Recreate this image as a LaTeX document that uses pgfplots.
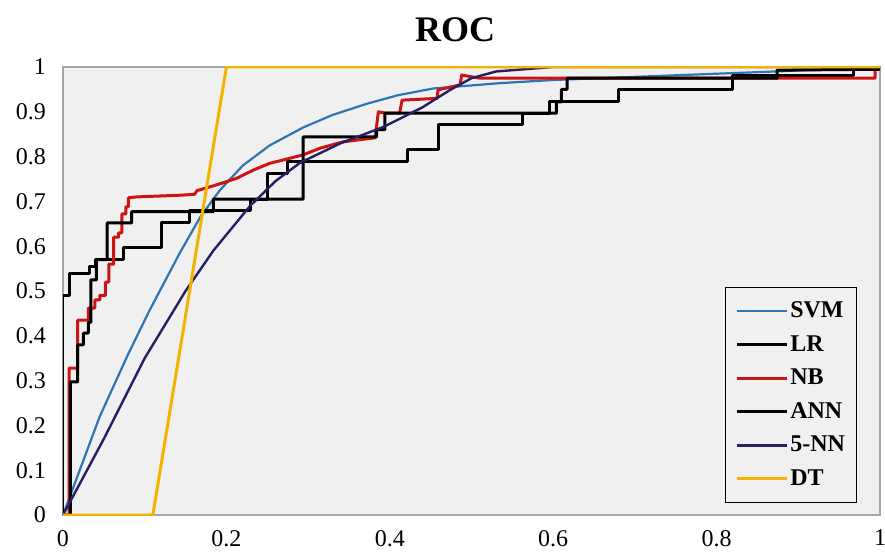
\documentclass[border=0pt]{standalone}
\usepackage{fontspec}
\setmainfont{Liberation Serif}
\usepackage{pgfplots}
\pgfplotsset{compat=1.18}
\definecolor{svmblue}{RGB}{46,117,182}
\definecolor{nbred}{RGB}{205,20,20}
\definecolor{knnnavy}{RGB}{40,30,100}
\definecolor{dtgold}{RGB}{242,180,0}
\definecolor{plotbg}{RGB}{240,240,240}
\begin{document}
\begin{tikzpicture}
\begin{axis}[
  scale only axis,
  width=408.5pt, height=224pt,
  xmin=0, xmax=1, ymin=0, ymax=1,
  xtick={0,0.2,0.4,0.6,0.8,1},
  ytick={0,0.1,0.2,0.3,0.4,0.5,0.6,0.7,0.8,0.9,1},
  major tick length=0pt,
  axis line style={draw=gray!70, line width=0.6pt},
  axis background/.style={fill=plotbg},
  /pgf/number format/assume math mode=true,
  /pgf/number format/.cd, fixed, precision=1, /pgfplots/.cd,
  tick label style={font=\fontsize{12}{14}\selectfont},
  xticklabel style={yshift=-4pt},
  yticklabel style={xshift=-5pt},
  title={ROC},
  title style={font=\fontsize{18}{20}\selectfont\bfseries, at={(0.48,1)}, anchor=south, yshift=3pt},
  legend cell align=left,
  legend style={at={(0.972,0.027)}, anchor=south east, draw=black, line width=0.6pt, fill=plotbg,
    font=\fontsize{12}{14}\selectfont\bfseries, row sep=3.4pt, inner xsep=5pt, inner ysep=5pt,
    column sep=0pt, nodes={inner xsep=0.8pt}},
  legend image code/.code={\draw[#1] (0pt,0pt) -- (25pt,0pt);},
  every axis plot/.append style={line join=round},
]
\addplot[svmblue, line width=1.1pt] coordinates {
(0,0) (0.045,0.22) (0.08,0.36) (0.106,0.457) (0.143,0.585) (0.168,0.665) (0.192,0.725)
(0.22,0.78) (0.253,0.825) (0.294,0.865) (0.33,0.893) (0.372,0.918) (0.41,0.937)
(0.453,0.952) (0.535,0.964) (0.6,0.971) (0.7,0.978) (0.8,0.985) (0.9,0.992) (1,1)};
\addlegendentry{SVM}
\addplot[black, line width=1.5pt] coordinates {
(0,0) (0,0.49) (0.008,0.49) (0.008,0.54) (0.033,0.54) (0.033,0.555) (0.04,0.555) (0.04,0.57)
(0.074,0.57) (0.074,0.596) (0.121,0.596) (0.121,0.652) (0.155,0.652) (0.155,0.679)
(0.229,0.679) (0.229,0.705) (0.25,0.705) (0.25,0.763) (0.275,0.763) (0.275,0.788)
(0.422,0.788) (0.422,0.815) (0.459,0.815) (0.459,0.871) (0.562,0.871) (0.562,0.897)
(0.596,0.897) (0.596,0.922) (0.68,0.922) (0.68,0.949) (0.819,0.949) (0.819,0.98)
(0.967,0.98) (0.967,1) (1,1)};
\addlegendentry{LR}
\addplot[nbred, line width=1.5pt] coordinates {
(0,0) (0.0075,0) (0.0075,0.328) (0.018,0.328) (0.018,0.435) (0.031,0.435) (0.031,0.462)
(0.039,0.462) (0.039,0.48) (0.045,0.48) (0.045,0.49) (0.052,0.49) (0.052,0.52) (0.056,0.52)
(0.056,0.56) (0.062,0.56) (0.062,0.62) (0.068,0.62) (0.068,0.63) (0.072,0.63) (0.072,0.672)
(0.077,0.672) (0.077,0.688) (0.08,0.688) (0.08,0.708) (0.09,0.71) (0.146,0.714) (0.161,0.716)
(0.164,0.724) (0.19,0.738) (0.213,0.752) (0.233,0.77) (0.253,0.785) (0.275,0.795)
(0.294,0.804) (0.315,0.819) (0.343,0.833) (0.382,0.842) (0.386,0.9) (0.395,0.897)
(0.412,0.897) (0.415,0.926) (0.458,0.93) (0.459,0.949) (0.486,0.96) (0.488,0.982)
(0.51,0.975) (0.994,0.975) (0.994,1) (1,1)};
\addlegendentry{NB}
\addplot[black, line width=1.5pt] coordinates {
(0,0) (0.009,0) (0.009,0.297) (0.018,0.297) (0.018,0.38) (0.025,0.38) (0.025,0.406)
(0.031,0.406) (0.031,0.43) (0.034,0.43) (0.034,0.525) (0.041,0.525) (0.041,0.57)
(0.054,0.57) (0.054,0.652) (0.084,0.652) (0.084,0.677) (0.184,0.677) (0.184,0.705)
(0.294,0.705) (0.294,0.844) (0.384,0.844) (0.384,0.86) (0.394,0.86) (0.394,0.897)
(0.604,0.897) (0.604,0.922) (0.61,0.922) (0.61,0.95) (0.617,0.95) (0.617,0.975)
(0.874,0.975) (0.874,0.993) (1,0.995)};
\addlegendentry{ANN}
\addplot[knnnavy, line width=1.2pt] coordinates {
(0,0) (0.05,0.17) (0.1,0.35) (0.15,0.5) (0.184,0.59) (0.229,0.69) (0.26,0.745) (0.29,0.786)
(0.34,0.83) (0.392,0.866) (0.44,0.91) (0.474,0.949) (0.5,0.975) (0.53,0.99) (0.6,1) (1,1)};
\addlegendentry{5-NN}
\addplot[dtgold, line width=1.5pt] coordinates {
(0,0) (0.11,0) (0.2,1) (1,1)};
\addlegendentry{DT}
\end{axis}
\pgfresetboundingbox
\path ([shift={(-31.5pt,-18.5pt)}]current axis.south west) rectangle ([shift={(2.5pt,33.5pt)}]current axis.north east);
\end{tikzpicture}
\end{document}
